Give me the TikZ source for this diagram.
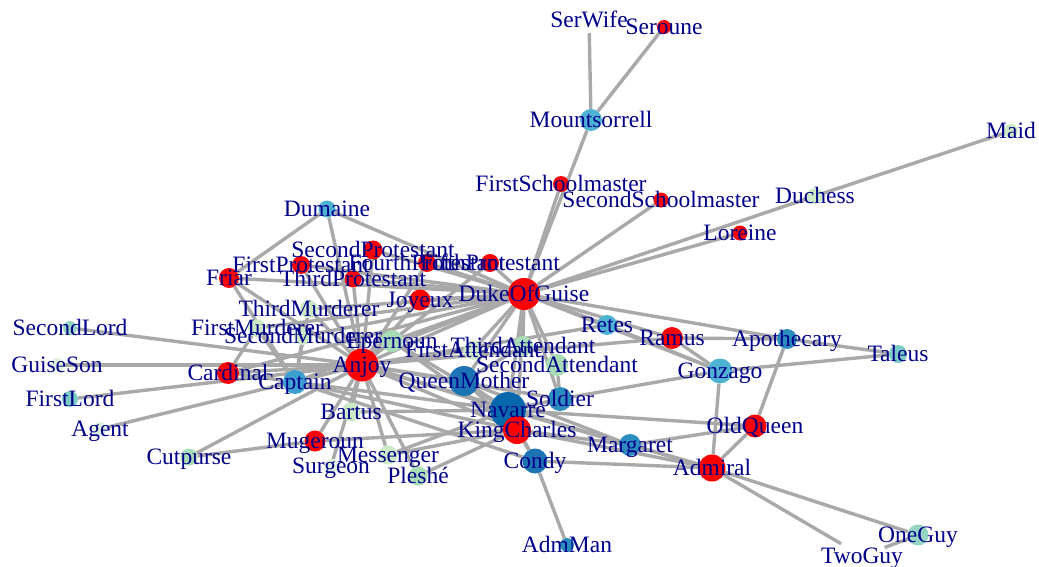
\documentclass[tikz,border=0pt]{standalone}
\usepackage{fontspec}
\setmainfont{Liberation Serif}
\usetikzlibrary{backgrounds}
\definecolor{edgec}{HTML}{A9A9A9}
\definecolor{labc}{HTML}{00008B}
\definecolor{cR}{HTML}{FF0000}
\definecolor{cA}{HTML}{4EB3D3}
\definecolor{cAB}{HTML}{3D9FCF}
\definecolor{cB}{HTML}{2B8CBE}
\definecolor{cBC}{HTML}{1C74B4}
\definecolor{cC}{HTML}{0868AC}
\definecolor{cT}{HTML}{7BCCC4}
\definecolor{cTG}{HTML}{95D5C1}
\definecolor{cG}{HTML}{A8DDB5}
\definecolor{cL}{HTML}{CCEBC5}
\definecolor{cW}{HTML}{E0F3DB}
\newcommand\vtx[5]{\node[vv,fill=#4,minimum size=#5pt] (#1) at (#2,#3) {};}
\newcommand\lbl[2]{\node[lab] (l-#1) at (#1) {#2};}
\begin{document}
\begin{tikzpicture}[x=1pt,y=-1pt,
  vv/.style={circle,inner sep=0pt,draw=none},
  lab/.style={text=labc,inner sep=0pt,text height=15.5pt,text depth=0pt,font=\fontsize{23.5}{28}\selectfont},
  ee/.style={draw=edgec,line width=3.4pt}]
\useasboundingbox (0,0) rectangle (1039,567);
% vertices
\vtx{SerWife}{589}{20}{white}{26}
\vtx{Seroune}{664}{27}{cR}{14}
\vtx{Mountsorrell}{591}{120}{cA}{22}
\vtx{Maid}{1011}{131}{cL}{14}
\vtx{FirstSchoolmaster}{561}{184}{cR}{16}
\vtx{SecondSchoolmaster}{661}{200}{cR}{15}
\vtx{Duchess}{815}{196}{cL}{16}
\vtx{Loreine}{740}{233}{cR}{15}
\vtx{Dumaine}{327}{209}{cA}{17}
\vtx{SecondProtestant}{373}{250}{cR}{19}
\vtx{FirstProtestant}{301}{265}{cR}{18}
\vtx{FourthProtestant}{427}{263}{cR}{18}
\vtx{FifthProtestant}{490}{263}{cR}{18}
\vtx{ThirdProtestant}{353}{279}{cR}{17}
\vtx{Friar}{229}{278}{cR}{20}
\vtx{Joyeux}{420}{300}{cR}{21}
\vtx{DukeOfGuise}{524}{294}{cR}{32}
\vtx{ThirdMurderer}{309}{309}{cL}{18}
\vtx{FirstMurderer}{257}{328}{cL}{18}
\vtx{SecondMurderer}{303}{336}{cL}{18}
\vtx{Epernoun}{392}{341}{cG}{22}
\vtx{Anjoy}{362}{365}{cR}{33}
\vtx{Cardinal}{228}{373}{cR}{22}
\vtx{Captain}{295}{382}{cAB}{24}
\vtx{SecondLord}{70}{328}{cTG}{14}
\vtx{GuiseSon}{57}{365}{cW}{14}
\vtx{FirstLord}{70}{399}{cT}{16}
\vtx{Agent}{100}{429}{cW}{14}
\vtx{Cutpurse}{189}{457}{cG}{17}
\vtx{Mugeroun}{315}{441}{cR}{21}
\vtx{Surgeon}{331}{466}{cW}{14}
\vtx{Bartus}{351}{412}{cL}{19}
\vtx{Messenger}{388}{455}{cL}{19}
\vtx{Pleshe}{418}{476}{cG}{19}
\vtx{FirstAttendant}{473}{350}{cL}{19}
\vtx{ThirdAttendant}{523}{346}{cG}{20}
\vtx{SecondAttendant}{557}{365}{cG}{22}
\vtx{QueenMother}{464}{381}{cBC}{30}
\vtx{Retes}{607}{325}{cA}{20}
\vtx{Navarre}{508}{410}{cC}{36}
\vtx{Soldier}{560}{399}{cB}{24}
\vtx{KingCharles}{517}{430}{cR}{28}
\vtx{Ramus}{672}{338}{cR}{22}
\vtx{Apothecary}{787}{339}{cB}{20}
\vtx{Taleus}{898}{354}{cT}{18}
\vtx{Gonzago}{720}{371}{cA}{25}
\vtx{OldQueen}{755}{426}{cR}{23}
\vtx{Admiral}{712}{468}{cR}{27}
\vtx{Margaret}{630}{445}{cB}{22}
\vtx{Condy}{535}{461}{cBC}{25}
\vtx{AdmMan}{567}{545}{cB}{14}
\vtx{OneGuy}{918}{535}{cTG}{21}
\vtx{TwoGuy}{862}{556}{white}{48}
% edges
\begin{scope}[on background layer]
\fill[white] (0,0) rectangle (1039,567);
\foreach \a/\b in {Mountsorrell/SerWife,Mountsorrell/Seroune,Mountsorrell/DukeOfGuise,
 FirstSchoolmaster/DukeOfGuise,SecondSchoolmaster/DukeOfGuise,Maid/Duchess,Duchess/DukeOfGuise,
 Loreine/DukeOfGuise,Dumaine/Friar,Dumaine/DukeOfGuise,Dumaine/Anjoy,
 Friar/DukeOfGuise,Friar/Anjoy,Friar/Captain,
 FirstProtestant/Anjoy,FirstProtestant/DukeOfGuise,SecondProtestant/Anjoy,SecondProtestant/DukeOfGuise,
 ThirdProtestant/Anjoy,ThirdProtestant/DukeOfGuise,FourthProtestant/Anjoy,FourthProtestant/DukeOfGuise,
 FifthProtestant/Anjoy,FifthProtestant/DukeOfGuise,Joyeux/Anjoy,Joyeux/DukeOfGuise,
 ThirdMurderer/DukeOfGuise,ThirdMurderer/Captain,ThirdMurderer/Anjoy,
 FirstMurderer/DukeOfGuise,FirstMurderer/Captain,FirstMurderer/Cardinal,
 SecondMurderer/DukeOfGuise,SecondMurderer/Captain,
 Epernoun/Anjoy,Epernoun/DukeOfGuise,Epernoun/Navarre,Epernoun/KingCharles,
 Cardinal/Anjoy,Cardinal/DukeOfGuise,Cardinal/Captain,
 SecondLord/Anjoy,GuiseSon/Anjoy,FirstLord/Anjoy,Agent/Anjoy,
 Cutpurse/Anjoy,Cutpurse/Mugeroun,Mugeroun/KingCharles,Mugeroun/Anjoy,
 Surgeon/Anjoy,Bartus/Anjoy,Bartus/Navarre,
 Messenger/Anjoy,Messenger/Navarre,Messenger/KingCharles,Pleshe/KingCharles,Pleshe/Anjoy,
 Captain/Anjoy,Captain/DukeOfGuise,Captain/Navarre,Captain/KingCharles,Captain/Condy,
 Anjoy/DukeOfGuise,Anjoy/QueenMother,Anjoy/Navarre,Anjoy/KingCharles,Anjoy/Margaret,
 Anjoy/Soldier,Anjoy/FirstAttendant,Anjoy/Retes,Anjoy/Ramus,
 FirstAttendant/DukeOfGuise,SecondAttendant/DukeOfGuise,ThirdAttendant/DukeOfGuise,
 ThirdAttendant/QueenMother,SecondAttendant/Soldier,
 QueenMother/DukeOfGuise,QueenMother/Navarre,QueenMother/KingCharles,QueenMother/Margaret,
 Navarre/DukeOfGuise,Navarre/KingCharles,Navarre/Margaret,Navarre/Admiral,Navarre/Condy,
 Navarre/OldQueen,Navarre/Soldier,
 KingCharles/DukeOfGuise,KingCharles/Margaret,KingCharles/Admiral,KingCharles/Condy,
 Soldier/Gonzago,Soldier/DukeOfGuise,
 Retes/DukeOfGuise,Retes/Gonzago,Ramus/DukeOfGuise,Ramus/Gonzago,Ramus/Apothecary,
 Apothecary/DukeOfGuise,Apothecary/Taleus,Apothecary/OldQueen,Gonzago/Taleus,Gonzago/Admiral,
 Gonzago/DukeOfGuise,OldQueen/Admiral,OldQueen/Margaret,Margaret/Admiral,
 Condy/Admiral,Condy/AdmMan,Admiral/OneGuy,Admiral/TwoGuy,OneGuy/TwoGuy}
 \draw[ee] (\a) -- (\b);
\end{scope}
% labels
\lbl{SerWife}{SerWife}
\lbl{Seroune}{Seroune}
\lbl{Mountsorrell}{Mountsorrell}
\lbl{Maid}{Maid}
\lbl{FirstSchoolmaster}{FirstSchoolmaster}
\lbl{SecondSchoolmaster}{SecondSchoolmaster}
\lbl{Duchess}{Duchess}
\lbl{Loreine}{Loreine}
\lbl{Dumaine}{Dumaine}
\lbl{SecondProtestant}{SecondProtestant}
\lbl{FirstProtestant}{FirstProtestant}
\lbl{FourthProtestant}{FourthProtestant}
\lbl{FifthProtestant}{FifthProtestant}
\lbl{ThirdProtestant}{ThirdProtestant}
\lbl{Friar}{Friar}
\lbl{Joyeux}{Joyeux}
\lbl{DukeOfGuise}{DukeOfGuise}
\lbl{ThirdMurderer}{ThirdMurderer}
\lbl{FirstMurderer}{FirstMurderer}
\lbl{SecondMurderer}{SecondMurderer}
\lbl{Epernoun}{Epernoun}
\lbl{Anjoy}{Anjoy}
\lbl{Cardinal}{Cardinal}
\lbl{Captain}{Captain}
\lbl{SecondLord}{SecondLord}
\lbl{GuiseSon}{GuiseSon}
\lbl{FirstLord}{FirstLord}
\lbl{Agent}{Agent}
\lbl{Cutpurse}{Cutpurse}
\lbl{Mugeroun}{Mugeroun}
\lbl{Surgeon}{Surgeon}
\lbl{Bartus}{Bartus}
\lbl{Messenger}{Messenger}
\lbl{Pleshe}{Pleshé}
\lbl{FirstAttendant}{FirstAttendant}
\lbl{ThirdAttendant}{ThirdAttendant}
\lbl{SecondAttendant}{SecondAttendant}
\lbl{QueenMother}{QueenMother}
\lbl{Retes}{Retes}
\lbl{Navarre}{Navarre}
\lbl{Soldier}{Soldier}
\lbl{KingCharles}{KingCharles}
\lbl{Ramus}{Ramus}
\lbl{Apothecary}{Apothecary}
\lbl{Taleus}{Taleus}
\lbl{Gonzago}{Gonzago}
\lbl{OldQueen}{OldQueen}
\lbl{Admiral}{Admiral}
\lbl{Margaret}{Margaret}
\lbl{Condy}{Condy}
\lbl{AdmMan}{AdmMan}
\lbl{OneGuy}{OneGuy}
\lbl{TwoGuy}{TwoGuy}
\end{tikzpicture}
\end{document}
